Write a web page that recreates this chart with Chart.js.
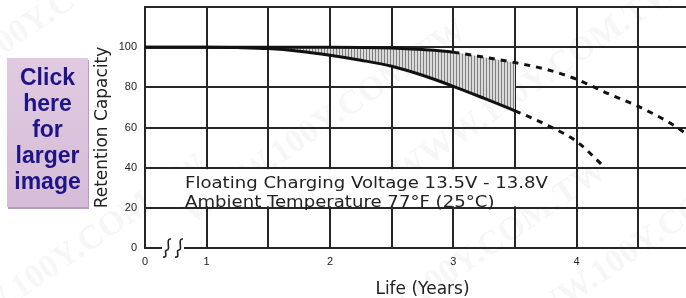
<!DOCTYPE html>
<html>
<head>
<meta charset="utf-8">
<script src="https://cdn.jsdelivr.net/npm/chart.js@4.4.1/dist/chart.umd.min.js"></script>
<style>
html, body { margin: 0; padding: 0; overflow: hidden; background: #fff; width: 686px; height: 298px; }
#wrap { position: absolute; left: 0; top: 0; width: 704px; height: 298px; }
#btn {
    position: absolute; left: 7px; top: 58px; width: 81px; height: 149px;
    background: linear-gradient(#e0cae1, #d6bcd8);
    box-shadow: 1px 2px 0 #b99cbb;
    font-family: "Liberation Sans Narrow", "Arial Narrow", sans-serif;
    font-weight: bold; font-size: 23px; line-height: 26px;
    color: #1e1486; text-align: center;
    padding-top: 6px; box-sizing: border-box;
}
</style>
</head>
<body>
<div id="wrap"><canvas id="myChart" width="704" height="298"></canvas></div>
<div id="btn">Click<br>here<br>for<br>larger<br>image</div>
<script>
// Upper curve (solid = measured, dashed = expected)
const upperYears = [0.5, 1, 1.5, 2, 2.5, 2.75, 3, 3.25, 3.5, 3.75, 4, 4.25, 4.5, 4.75, 4.9];
const upperCapacity = [100, 100, 100, 100, 99.6, 98.8, 97.5, 95, 92.3, 89, 84, 77, 70.5, 62.5, 56.5];
const upperSolidUntil = 3;

// Lower curve
const lowerYears = [0.5, 1, 1.25, 1.5, 1.75, 2, 2.25, 2.5, 2.75, 3, 3.25, 3.5, 3.75, 4, 4.23];
const lowerCapacity = [100, 100, 99.8, 99.3, 98, 96, 93.5, 90.5, 86, 80.5, 74.5, 68.3, 61.5, 53, 40];
const lowerSolidUntil = 3.5;

// Hatched band between the two curves
const hatchFrom = 1.5;
const hatchTo = 3.5;

// Tick labels (axis starts at 0 with a break, so 0 sits at 0.5)
const xTickValues = [0.5, 1, 2, 3, 4];
const xTickText = ['0', '1', '2', '3', '4'];
const yHiddenTick = 120;

const noteLines = ['Floating Charging Voltage 13.5V - 13.8V', 'Ambient Temperature 77\u00B0F (25\u00B0C)'];

// Build points
function toPoints(xs, ys) {
    return xs.map((x, i) => ({ x: x, y: ys[i] }));
}
function inRange(points) {
    return points.filter(p => p.x >= hatchFrom && p.x <= hatchTo);
}
const upperPoints = toPoints(upperYears, upperCapacity);
const lowerPoints = toPoints(lowerYears, lowerCapacity);

// Hatch pattern: thin vertical lines on light grey
const pc = document.createElement('canvas');
pc.width = 3; pc.height = 4;
const pctx = pc.getContext('2d');
pctx.fillStyle = '#dadada';
pctx.fillRect(0, 0, 3, 4);
pctx.fillStyle = '#808080';
pctx.fillRect(0, 0, 1, 4);
const hatchPattern = pctx.createPattern(pc, 'repeat');

const gridColor = '#262626';
const ctx = document.getElementById('myChart').getContext('2d');

// Watermark, white note box, axis break
const decorPlugin = {
    id: 'decor',
    beforeDraw(chart) {
        const c = chart.ctx;
        c.save();
        c.fillStyle = 'rgba(0,0,0,0.035)';
        c.font = 'bold 34px "Liberation Serif"';
        const spots = [[40, 30], [330, 130], [540, 90], [70, 265], [470, 270], [650, 250]];
        spots.forEach(s => {
            c.save();
            c.translate(s[0], s[1]);
            c.rotate(-0.6);
            c.textAlign = 'center';
            c.fillText('WWW.100Y.COM.TW', 0, 0);
            c.restore();
        });
        c.restore();
    },
    beforeDatasetsDraw(chart) {
        const c = chart.ctx;
        const xs = chart.scales.x, ys = chart.scales.y;
        const top = ys.getPixelForValue(40) + 1.5;
        const bottom = ys.getPixelForValue(20) - 1.5;
        const left = chart.chartArea.left + 1.5;
        const right = xs.getPixelForValue(3.8);
        c.save();
        c.fillStyle = '#fff';
        c.fillRect(left, top, right - left, bottom - top);
        c.fillStyle = '#222';
        c.font = '16px "DejaVu Sans"';
        c.textBaseline = 'alphabetic';
        const w = c.measureText(noteLines[0]).width;
        const sx = 363 / w;
        noteLines.forEach((t, i) => {
            c.save();
            c.translate(185, 188 + i * 19);
            c.scale(sx, 1);
            c.fillText(t, 0, 0);
            c.restore();
        });
        c.restore();
    },
    afterDraw(chart) {
        const c = chart.ctx;
        const y0 = chart.chartArea.bottom;
        const x0 = chart.chartArea.left;
        c.save();
        c.fillStyle = '#fff';
        c.fillRect(x0 + 17, y0 - 3, 22, 6);
        c.strokeStyle = '#222';
        c.lineWidth = 1.6;
        [x0 + 22, x0 + 34].forEach(x => {
            c.beginPath();
            c.moveTo(x + 4, y0 - 9);
            c.bezierCurveTo(x - 2, y0 - 10, x + 4, y0 + 2, x, y0 + 2);
            c.bezierCurveTo(x - 4, y0 + 2, x + 2, y0 + 10, x - 4, y0 + 9);
            c.stroke();
        });
        c.restore();
    }
};

const lineBase = {
    borderColor: '#111',
    borderWidth: 3,
    pointRadius: 0,
    cubicInterpolationMode: 'monotone',
    fill: false
};

const myChart = new Chart(ctx, {
    type: 'line',
    data: {
        datasets: [
            Object.assign({}, lineBase, {
                label: 'upper',
                data: upperPoints,
                segment: { borderDash: s => s.p0.parsed.x >= upperSolidUntil - 1e-9 ? [6, 6] : undefined }
            }),
            Object.assign({}, lineBase, {
                label: 'lower',
                data: lowerPoints,
                segment: { borderDash: s => s.p0.parsed.x >= lowerSolidUntil - 1e-9 ? [6, 6] : undefined }
            }),
            Object.assign({}, lineBase, {
                label: 'hatchTop',
                data: inRange(upperPoints),
                borderWidth: 0,
                borderColor: 'rgba(0,0,0,0)',
                backgroundColor: hatchPattern,
                fill: 3
            }),
            Object.assign({}, lineBase, {
                label: 'hatchBottom',
                data: inRange(lowerPoints),
                borderWidth: 0,
                borderColor: 'rgba(0,0,0,0)'
            })
        ]
    },
    options: {
        animation: false,
        responsive: false,
        layout: { padding: { left: 0, right: 4, top: 7, bottom: 0 } },
        plugins: {
            legend: { display: false },
            tooltip: { enabled: false }
        },
        scales: {
            x: {
                type: 'linear',
                min: 0.5,
                max: 5,
                grid: { color: gridColor, lineWidth: 2, drawTicks: false },
                border: { color: gridColor, width: 2 },
                ticks: {
                    stepSize: 0.5,
                    autoSkip: false,
                    maxRotation: 0,
                    padding: 7,
                    color: '#222',
                    font: { family: 'Arial', size: 11 },
                    callback: v => {
                        const i = xTickValues.indexOf(v);
                        return i >= 0 ? xTickText[i] : '';
                    }
                },
                title: {
                    display: true,
                    text: 'Life (Years)',
                    color: '#222',
                    font: { family: 'DejaVu Sans', size: 17, lineHeight: 1 },
                    padding: { top: 0, bottom: 0 }
                },
                afterFit: s => { s.height = 50; s.paddingLeft = 0; s.paddingRight = 0; }
            },
            y: {
                min: 0,
                max: 120,
                grid: { color: gridColor, lineWidth: 2, drawTicks: false },
                border: { color: gridColor, width: 2 },
                ticks: {
                    stepSize: 20,
                    padding: 8,
                    color: '#222',
                    font: { family: 'Arial', size: 11 },
                    callback: v => v === yHiddenTick ? '' : v
                },
                title: {
                    display: true,
                    text: 'Retention Capacity',
                    color: '#222',
                    font: { family: 'DejaVu Sans', size: 17, lineHeight: 1 },
                    padding: { top: 94, bottom: 0 }
                },
                afterFit: s => { s.width = 145; s.paddingTop = 0; s.paddingBottom = 0; }
            }
        }
    },
    plugins: [decorPlugin]
});
</script>
</body>
</html>
